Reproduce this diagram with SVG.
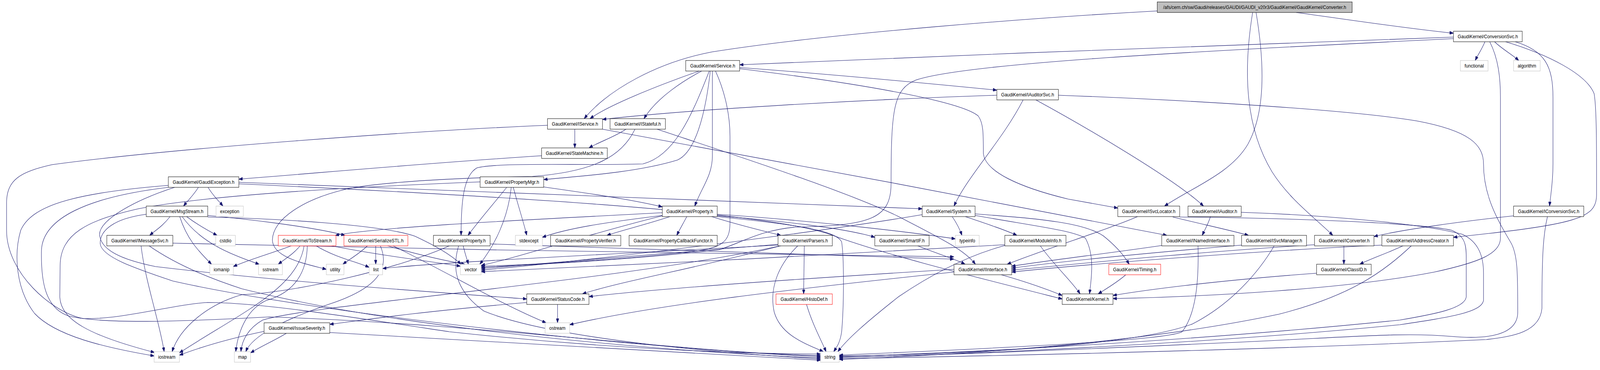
<svg xmlns="http://www.w3.org/2000/svg" width="4629" height="948" viewBox="0 0 4629 948" preserveAspectRatio="none">
<style>
svg{width:100vw;height:948px}
.n rect{fill:#ffffff;stroke:#000000;stroke-width:1}
.g rect{stroke:#bfbfbf}
.r rect{stroke:#ff0000}
.t rect{fill:#bfbfbf}
.n text{font-family:"Liberation Sans",Arial,sans-serif;font-size:13px;text-anchor:middle;fill:#000000}
.e path{fill:none;stroke:#191970;stroke-width:1.1;marker-end:url(#a)}
</style>
<defs>
<marker id="a" viewBox="0 0 11 8" refX="11" refY="4" markerWidth="11" markerHeight="8" markerUnits="userSpaceOnUse" orient="auto">
<path d="M0,0 L11,4 L0,8 z" fill="#191970" stroke="#191970" stroke-width="1"/>
</marker>
</defs>
<rect x="0" y="0" width="4629" height="948" fill="#ffffff"/>
<g id="edges" class="e">
<path d="M3750,32 C3900,50 4060,72 4205,85"/>
<path d="M3348,28 C3000,45 2400,85 2060,133 C1900,160 1760,230 1690,304"/>
<path d="M3634,32 C3660,170 3660,290 3610,370 C3560,445 3450,480 3369,528"/>
<path d="M3624,32 C3595,190 3605,330 3680,440 C3730,510 3800,555 3856,603"/>
<path d="M4205,95 C3700,110 2800,140 2140,166"/>
<path d="M4205,99 C3500,130 2800,160 2650,205 C2585,228 2578,280 2578,470 C2578,560 2520,578 2300,582 C2200,590 2150,620 2080,640 C1800,668 1500,680 1392,685"/>
<path d="M4296,107 C4288,125 4276,140 4268,155"/>
<path d="M4324,107 C4345,125 4375,140 4394,155"/>
<path d="M4384,107 C4470,130 4493,170 4493,250 L4493,420 C4493,470 4486,500 4483,528"/>
<path d="M4356,107 C4480,140 4590,190 4612,240 C4620,280 4619,400 4619,500 C4619,560 4560,575 4205,608"/>
<path d="M4310,107 C4335,150 4341,200 4341,250 L4341,610 C4341,650 4280,672 4150,697 C3900,740 3500,760 3220,765"/>
<path d="M2023,182 C1900,220 1760,270 1707,304"/>
<path d="M2030,182 C1980,205 1900,250 1863,304"/>
<path d="M2140,173 C2400,190 2700,215 2884,231"/>
<path d="M2140,176 C2500,215 2780,260 2830,297 C2845,315 2845,340 2845,393 C2850,440 2950,480 3090,510 C3150,520 3200,528 3234,533"/>
<path d="M2052,182 C2000,300 1950,400 1860,420 C1700,425 1450,415 1380,430 C1340,450 1334,520 1334,603"/>
<path d="M2055,182 C2040,300 2010,390 1960,410 C1850,440 1700,450 1573,460"/>
<path d="M2061,182 L2061,400 C2061,450 2030,480 2010,528"/>
<path d="M2070,182 C2100,240 2112,300 2112,350 L2112,570 C2112,620 2090,635 2000,645 C1800,665 1550,678 1392,682"/>
<path d="M2884,244 C2500,255 2000,280 1743,306"/>
<path d="M2997,256 C3150,330 3400,460 3482,528"/>
<path d="M2960,256 C2900,360 2800,450 2760,528"/>
<path d="M3062,244 C3400,255 3900,280 4100,310 C4250,335 4292,370 4292,420 C4292,500 4330,560 4370,620 C4391,650 4391,700 4391,800 C4391,860 4300,870 4200,862 C4050,850 3900,865 3500,880 C3000,900 2600,913 2428,915"/>
<path d="M1663,331 L1663,379"/>
<path d="M1743,331 C2200,405 2900,520 3376,603"/>
<path d="M1584,321 C1200,335 500,380 150,422 C60,440 19,460 19,520 L19,590 C19,700 150,800 240,816 C350,820 500,780 600,775 C750,775 1000,810 1300,850 C1800,898 2200,907 2374,907"/>
<path d="M1811,331 C1780,350 1730,365 1704,379"/>
<path d="M1901,331 C2100,390 2450,490 2600,555 C2720,610 2790,640 2822,677"/>
<path d="M1837,331 C1800,400 1720,440 1540,452 C1350,455 1100,465 1000,485 C880,510 790,560 788,615 C790,660 880,675 944,690"/>
<path d="M1567,399 C1200,420 900,445 691,459"/>
<path d="M574,480 C560,500 545,512 531,528"/>
<path d="M602,480 C615,500 630,512 645,528"/>
<path d="M691,467 C1000,475 1800,500 2668,535"/>
<path d="M691,471 C1400,500 2200,540 2400,600 C2550,650 2800,705 3073,766"/>
<path d="M505,480 C400,510 290,560 288,600 C290,640 350,665 450,683 C800,720 1200,745 1524,766"/>
<path d="M487,475 C200,495 90,530 60,590 C40,650 45,740 100,803 C160,860 300,890 446,912"/>
<path d="M487,480 C250,505 125,560 120,640 C118,720 130,790 200,810 C300,830 500,825 780,812 C1400,830 2000,905 2374,911"/>
<path d="M492,555 C470,580 450,590 433,603"/>
<path d="M540,555 C570,575 600,590 628,603"/>
<path d="M520,555 C540,610 570,640 612,677"/>
<path d="M527,555 C580,620 660,650 750,677"/>
<path d="M601,552 C700,560 900,580 998,603"/>
<path d="M601,556 C800,560 1100,575 1200,605 C1260,630 1300,650 1334,677"/>
<path d="M423,549 C330,560 288,590 290,625 C295,660 400,690 500,720 C900,800 1800,890 2374,914"/>
<path d="M408,629 C420,720 460,820 475,901"/>
<path d="M500,623 C1200,640 2200,650 2760,658"/>
<path d="M430,629 C480,660 560,700 700,740 C1200,850 2000,905 2374,917"/>
<path d="M1573,479 C1700,495 1820,510 1916,530"/>
<path d="M1466,480 C1430,520 1390,560 1354,603"/>
<path d="M1479,480 C1470,560 1430,630 1388,677"/>
<path d="M1485,480 C1500,530 1515,570 1524,603"/>
<path d="M1389,466 C1000,480 600,500 400,535 C250,565 175,600 174,680 L173,760 C175,820 260,860 447,903"/>
<path d="M1938,555 C1870,575 1800,590 1756,603"/>
<path d="M1987,555 C1975,575 1965,590 1958,603"/>
<path d="M1916,552 C1750,570 1640,585 1569,608"/>
<path d="M2059,555 C2130,575 2200,590 2259,603"/>
<path d="M1916,545 C1600,560 1100,580 970,603"/>
<path d="M2075,553 C2250,565 2450,585 2531,608"/>
<path d="M2075,549 C2300,562 2600,590 2764,612"/>
<path d="M2075,555 C2300,575 2420,590 2435,620 C2442,660 2442,780 2435,850 C2430,880 2420,890 2412,901"/>
<path d="M1916,553 C1700,600 1500,660 1392,680"/>
<path d="M1340,629 C1345,650 1350,660 1355,677"/>
<path d="M1302,629 C1150,690 850,750 700,755 C600,780 520,840 498,901"/>
<path d="M1327,629 C1310,680 1310,740 1400,797 C1600,870 2100,905 2374,920"/>
<path d="M1418,625 C1900,640 2400,650 2760,664"/>
<path d="M845,629 C800,645 720,665 675,683"/>
<path d="M869,629 C850,650 830,660 805,677"/>
<path d="M913,629 C970,660 1030,670 1068,685"/>
<path d="M955,629 C1100,655 1250,670 1332,682"/>
<path d="M889,629 C888,700 850,750 770,770 C720,790 690,840 682,901"/>
<path d="M880,629 C860,740 700,800 519,904"/>
<path d="M1064,629 C1040,650 1010,665 992,677"/>
<path d="M1087,629 L1087,677"/>
<path d="M1118,629 C1200,650 1270,665 1345,677"/>
<path d="M1100,629 C1130,690 1090,740 950,780 C820,820 730,860 711,901"/>
<path d="M1135,629 C1300,700 1450,780 1580,827"/>
<path d="M2327,629 L2325,753"/>
<path d="M2309,629 C2250,680 2225,740 2240,800 C2260,860 2330,880 2382,901"/>
<path d="M2251,626 C1900,650 1600,675 1392,688"/>
<path d="M2251,628 C1800,650 1300,670 1107,688"/>
<path d="M2262,629 C1800,720 900,780 760,820 C720,840 700,870 697,901"/>
<path d="M2262,629 C2000,690 1800,720 1685,753"/>
<path d="M2653,629 C2710,650 2760,662 2792,677"/>
<path d="M2755,555 C2770,575 2778,590 2783,603"/>
<path d="M2793,555 C2860,575 2910,590 2942,603"/>
<path d="M2821,548 C3000,560 3150,570 3200,610 C3240,640 3255,660 3267,677"/>
<path d="M2821,552 C3000,580 3100,590 3140,610 C3165,650 3160,700 3152,753"/>
<path d="M2668,550 C2400,590 1800,660 1392,692"/>
<path d="M3009,629 C3050,680 3100,720 3125,753"/>
<path d="M2907,629 C2800,655 2700,700 2600,760 C2500,830 2450,870 2424,901"/>
<path d="M2907,627 C2500,650 1800,680 1392,696"/>
<path d="M2897,704 C2980,725 3040,745 3073,757"/>
<path d="M2760,690 C2300,715 1900,740 1704,760"/>
<path d="M2760,697 C2300,740 1900,780 1648,832"/>
<path d="M3361,629 C3200,650 3050,665 2927,682"/>
<path d="M3466,629 C3468,700 3465,800 3420,850 C3380,870 3000,888 2428,910"/>
<path d="M3291,555 C3200,590 3050,630 2914,677"/>
<path d="M3393,556 C3480,575 3560,590 3612,603"/>
<path d="M3413,556 C3700,558 4100,570 4200,590 C4240,605 4242,630 4242,660 L4242,760 C4240,790 4150,805 4050,820 C3500,870 2800,905 2428,913"/>
<path d="M3502,555 C3495,575 3485,590 3478,603"/>
<path d="M3591,544 C3800,550 4100,570 4230,600 C4280,620 4292,660 4292,700 L4292,770 C4285,800 4200,812 4050,832 C3500,880 2800,908 2428,916"/>
<path d="M3592,628 C3300,650 3050,672 2927,687"/>
<path d="M3687,629 C3640,700 3560,780 3450,830 C3300,880 2900,905 2428,912"/>
<path d="M4379,553 C4200,570 4050,590 3975,606"/>
<path d="M4477,555 C4465,600 4461,650 4461,790 C4455,850 4380,862 4300,870 C3700,895 3000,910 2428,919"/>
<path d="M3888,629 L3888,677"/>
<path d="M3803,627 C3400,650 3100,678 2927,692"/>
<path d="M4061,629 C4010,650 3960,665 3934,677"/>
<path d="M3998,628 C3700,640 3200,672 2927,697"/>
<path d="M4084,629 C4000,700 3900,760 3700,805 C3300,880 2800,908 2428,921"/>
<path d="M3809,700 C3500,720 3300,745 3220,757"/>
<path d="M3257,704 C3230,725 3200,740 3177,753"/>
<path d="M1613,779 L1613,827"/>
<path d="M1524,775 C1200,800 1050,820 954,831"/>
<path d="M764,849 C650,870 570,893 519,910"/>
<path d="M830,853 C800,870 760,885 725,904"/>
<path d="M954,852 C1500,880 2000,905 2374,923"/>
<path d="M2333,779 C2350,830 2375,870 2390,901"/>
</g>
<g id="node-converter" class="n t"><rect x="3348" y="5" width="564" height="27"/><text x="3630" y="23">/afs/cern.ch/sw/Gaudi/releases/GAUDI/GAUDI_v20r3/GaudiKernel/GaudiKernel/Converter.h</text></g>
<g id="node-conversionsvc" class="n"><rect x="4205" y="80" width="199" height="27"/><text x="4304.5" y="98">GaudiKernel/ConversionSvc.h</text></g>
<g id="node-functional" class="n g"><rect x="4225" y="155" width="80" height="27"/><text x="4265" y="173">functional</text></g>
<g id="node-algorithm" class="n g"><rect x="4379" y="155" width="77" height="27"/><text x="4417.5" y="173">algorithm</text></g>
<g id="node-service" class="n"><rect x="1984" y="155" width="156" height="27"/><text x="2062" y="173">GaudiKernel/Service.h</text></g>
<g id="node-iauditorsvc" class="n"><rect x="2884" y="229" width="178" height="27"/><text x="2973" y="247">GaudiKernel/IAuditorSvc.h</text></g>
<g id="node-iservice" class="n"><rect x="1584" y="304" width="159" height="27"/><text x="1663.5" y="322">GaudiKernel/IService.h</text></g>
<g id="node-istateful" class="n"><rect x="1765" y="304" width="160" height="27"/><text x="1845" y="322">GaudiKernel/IStateful.h</text></g>
<g id="node-statemachine" class="n"><rect x="1567" y="379" width="190" height="27"/><text x="1662" y="397">GaudiKernel/StateMachine.h</text></g>
<g id="node-gaudiexception" class="n"><rect x="487" y="453" width="204" height="27"/><text x="589" y="471">GaudiKernel/GaudiException.h</text></g>
<g id="node-propertymgr" class="n"><rect x="1389" y="453" width="184" height="27"/><text x="1481" y="471">GaudiKernel/PropertyMgr.h</text></g>
<g id="node-msgstream" class="n"><rect x="423" y="528" width="178" height="27"/><text x="512" y="546">GaudiKernel/MsgStream.h</text></g>
<g id="node-exception" class="n g"><rect x="625" y="528" width="79" height="27"/><text x="664.5" y="546">exception</text></g>
<g id="node-property" class="n"><rect x="1916" y="528" width="159" height="27"/><text x="1995.5" y="546">GaudiKernel/Property.h</text></g>
<g id="node-system" class="n"><rect x="2668" y="528" width="153" height="27"/><text x="2744.5" y="546">GaudiKernel/System.h</text></g>
<g id="node-isvclocator" class="n"><rect x="3234" y="528" width="179" height="27"/><text x="3323.5" y="546">GaudiKernel/ISvcLocator.h</text></g>
<g id="node-iauditor" class="n"><rect x="3437" y="528" width="154" height="27"/><text x="3514" y="546">GaudiKernel/IAuditor.h</text></g>
<g id="node-iconversionsvc" class="n"><rect x="4379" y="528" width="203" height="27"/><text x="4480.5" y="546">GaudiKernel/IConversionSvc.h</text></g>
<g id="node-imessagesvc" class="n"><rect x="309" y="603" width="191" height="27"/><text x="404.5" y="621">GaudiKernel/IMessageSvc.h</text></g>
<g id="node-cstdio" class="n g"><rect x="624" y="603" width="57" height="27"/><text x="652.5" y="621">cstdio</text></g>
<g id="node-tostream" class="n r"><rect x="805" y="603" width="167" height="27"/><text x="888.5" y="621">GaudiKernel/ToStream.h</text></g>
<g id="node-serializestl" class="n r"><rect x="995" y="603" width="185" height="27"/><text x="1087.5" y="621">GaudiKernel/SerializeSTL.h</text></g>
<g id="node-iproperty" class="n"><rect x="1254" y="603" width="164" height="27"/><text x="1336" y="621">GaudiKernel/IProperty.h</text></g>
<g id="node-stdexcept" class="n g"><rect x="1491" y="603" width="78" height="27"/><text x="1530" y="621">stdexcept</text></g>
<g id="node-propertyverifier" class="n"><rect x="1593" y="603" width="203" height="27"/><text x="1694.5" y="621">GaudiKernel/PropertyVerifier.h</text></g>
<g id="node-propertycallbackfunctor" class="n"><rect x="1820" y="603" width="255" height="27"/><text x="1947.5" y="621">GaudiKernel/PropertyCallbackFunctor.h</text></g>
<g id="node-parsers" class="n"><rect x="2251" y="603" width="157" height="27"/><text x="2329.5" y="621">GaudiKernel/Parsers.h</text></g>
<g id="node-smartif" class="n"><rect x="2531" y="603" width="157" height="27"/><text x="2609.5" y="621">GaudiKernel/SmartIF.h</text></g>
<g id="node-typeinfo" class="n g"><rect x="2764" y="603" width="69" height="27"/><text x="2798.5" y="621">typeinfo</text></g>
<g id="node-moduleinfo" class="n"><rect x="2907" y="603" width="177" height="27"/><text x="2995.5" y="621">GaudiKernel/ModuleInfo.h</text></g>
<g id="node-inamedinterface" class="n"><rect x="3361" y="603" width="209" height="27"/><text x="3465.5" y="621">GaudiKernel/INamedInterface.h</text></g>
<g id="node-isvcmanager" class="n"><rect x="3592" y="603" width="188" height="27"/><text x="3686" y="621">GaudiKernel/ISvcManager.h</text></g>
<g id="node-iconverter" class="n"><rect x="3803" y="603" width="172" height="27"/><text x="3889" y="621">GaudiKernel/IConverter.h</text></g>
<g id="node-iaddresscreator" class="n"><rect x="3998" y="603" width="207" height="27"/><text x="4101.5" y="621">GaudiKernel/IAddressCreator.h</text></g>
<g id="node-iomanip" class="n g"><rect x="607" y="677" width="68" height="27"/><text x="641" y="695">iomanip</text></g>
<g id="node-sstream" class="n g"><rect x="748" y="677" width="69" height="27"/><text x="782.5" y="695">sstream</text></g>
<g id="node-utility" class="n g"><rect x="944" y="677" width="51" height="27"/><text x="969.5" y="695">utility</text></g>
<g id="node-list" class="n g"><rect x="1068" y="677" width="39" height="27"/><text x="1087.5" y="695">list</text></g>
<g id="node-vector" class="n g"><rect x="1332" y="677" width="60" height="27"/><text x="1362" y="695">vector</text></g>
<g id="node-iinterface" class="n"><rect x="2760" y="677" width="167" height="27"/><text x="2843.5" y="695">GaudiKernel/IInterface.h</text></g>
<g id="node-timing" class="n r"><rect x="3208" y="677" width="150" height="27"/><text x="3283" y="695">GaudiKernel/Timing.h</text></g>
<g id="node-classid" class="n"><rect x="3809" y="677" width="158" height="27"/><text x="3888" y="695">GaudiKernel/ClassID.h</text></g>
<g id="node-statuscode" class="n"><rect x="1524" y="753" width="180" height="27"/><text x="1614" y="771">GaudiKernel/StatusCode.h</text></g>
<g id="node-histodef" class="n r"><rect x="2245" y="753" width="163" height="27"/><text x="2326.5" y="771">GaudiKernel/HistoDef.h</text></g>
<g id="node-kernel" class="n"><rect x="3073" y="753" width="147" height="27"/><text x="3146.5" y="771">GaudiKernel/Kernel.h</text></g>
<g id="node-issueseverity" class="n"><rect x="764" y="827" width="190" height="27"/><text x="859" y="845">GaudiKernel/IssueSeverity.h</text></g>
<g id="node-ostream" class="n g"><rect x="1577" y="827" width="71" height="27"/><text x="1612.5" y="845">ostream</text></g>
<g id="node-iostream" class="n g"><rect x="446" y="901" width="73" height="27"/><text x="482.5" y="919">iostream</text></g>
<g id="node-map" class="n g"><rect x="678" y="901" width="47" height="27"/><text x="701.5" y="919">map</text></g>
<g id="node-string" class="n g"><rect x="2374" y="901" width="54" height="27"/><text x="2401" y="919">string</text></g>
</svg>
